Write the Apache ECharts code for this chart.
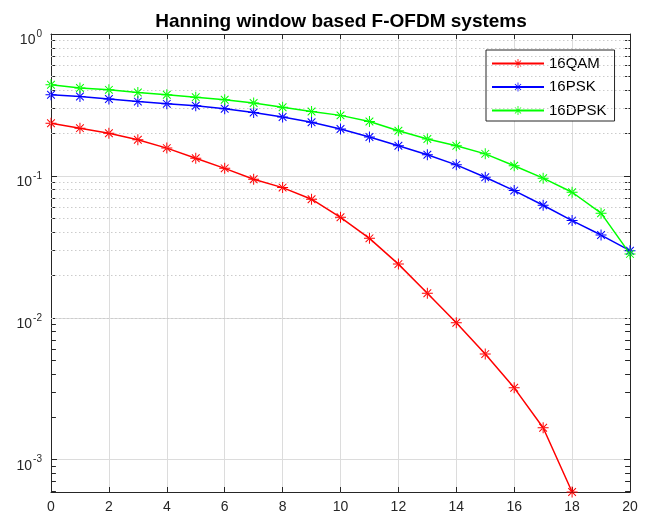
<!DOCTYPE html>
<html>
<head>
<meta charset="utf-8">
<script src="https://cdn.jsdelivr.net/npm/echarts@6/dist/echarts.min.js"></script>
<style>html,body{margin:0;padding:0;background:#fff;}#c{width:647px;height:520px;}</style>
</head>
<body>
<div id="c"></div>
<script>
// ---- data ----
var xValues = [0,1,2,3,4,5,6,7,8,9,10,11,12,13,14,15,16,17,18,19,20];
var qam16 = [0.235,0.217,0.200,0.180,0.157,0.133,0.113,0.0948,0.0827,0.0685,0.0511,0.0363,0.0239,0.0149,0.00923,0.00555,0.00321,0.00168,0.000592];
var psk16 = [0.373,0.363,0.348,0.334,0.322,0.312,0.297,0.280,0.260,0.239,0.214,0.188,0.163,0.141,0.1196,0.0979,0.0788,0.0621,0.0484,0.0383,0.0297];
var dpsk16 = [0.439,0.416,0.404,0.387,0.373,0.359,0.344,0.326,0.305,0.284,0.267,0.242,0.208,0.182,0.163,0.143,0.118,0.0964,0.0767,0.0546,0.0282];
var seriesNames = ['16QAM','16PSK','16DPSK'];
var seriesColors = ['#ff0000','#0000ff','#00ff00'];
var yMin = 0.000592, yMax = 1;
var xMin = 0, xMax = 20, xStep = 2;
var minorMultipliers = [2,3,4,5,6,7,8,9];
var minorDecades = [1e-4,1e-3,1e-2,1e-1];
var titleText = 'Hanning window based F-OFDM systems';

function pairs(ys){ return ys.map(function(v,i){ return [xValues[i], v]; }); }
var minorVals = [];
minorDecades.forEach(function(d){ minorMultipliers.forEach(function(m){ var v=m*d; if(v>yMin*1.001 && v<yMax) minorVals.push(v); }); });

var star = 'path://M-1,-0.09L1,-0.09L1,0.09L-1,0.09Z M-0.09,-1L0.09,-1L0.09,1L-0.09,1Z M0.636,0.764L0.764,0.636L-0.636,-0.764L-0.764,-0.636Z M0.764,-0.636L0.636,-0.764L-0.764,0.636L-0.636,0.764Z';

var frame = '#262626';
var font = 'Liberation Sans, Arial, sans-serif';

function sup(v){
  var e = Math.log10(v);
  var r = Math.round(e);
  if (Math.abs(e - r) > 1e-6) return '';
  return '{b|10}{s|' + r + '}';
}

var chart = echarts.init(document.getElementById('c'));
var data = [qam16, psk16, dpsk16];
var series = data.map(function(d, i){
  return {
    name: seriesNames[i], type: 'line', data: pairs(d), xAxisIndex: 0, yAxisIndex: 0,
    symbol: star, symbolSize: 11, showSymbol: true,
    lineStyle: {color: seriesColors[i], width: 1.5},
    itemStyle: {color: seriesColors[i]},
    z: 5, animation: false
  };
});
// minor grid lines (dotted)
series.unshift({
  name: 'minorgrid', type: 'line', data: [], xAxisIndex: 0, yAxisIndex: 0, z: 1, silent: true,
  markLine: {silent: true, symbol: 'none', animation: false, label: {show: false},
    lineStyle: {type: [1.5, 2.5], color: '#cccccc', width: 1},
    data: minorVals.map(function(v){ return {yAxis: v}; })}
});
// minor ticks on left and right frame
var tickLen = 0.17;
var minorTickData = [];
minorVals.forEach(function(v){
  minorTickData.push([{coord: [xMin, v]}, {coord: [xMin + tickLen, v]}]);
  minorTickData.push([{coord: [xMax - tickLen, v]}, {coord: [xMax, v]}]);
});
series.unshift({
  name: 'minorticks', type: 'line', data: [], xAxisIndex: 0, yAxisIndex: 0, z: 2, silent: true,
  markLine: {silent: true, symbol: 'none', animation: false, label: {show: false},
    lineStyle: {type: 'solid', color: frame, width: 1},
    data: minorTickData}
});

chart.setOption({
  animation: false,
  backgroundColor: '#ffffff',
  title: {text: titleText, left: 336, textAlign: 'center', top: 7,
    textStyle: {fontFamily: font, fontSize: 19, fontWeight: 'bold', color: '#000'}},
  grid: {left: 51, right: 17, top: 34, bottom: 28, containLabel: false},
  legend: {data: seriesNames, orient: 'vertical', left: 486, top: 50,
    backgroundColor: '#fff', borderColor: frame, borderWidth: 1, padding: [6, 8, 3, 5],
    itemWidth: 52, itemHeight: 11, itemGap: 8.5,
    textStyle: {fontFamily: font, fontSize: 15, color: '#000'}},
  xAxis: [
    {type: 'value', min: xMin, max: xMax, interval: xStep, position: 'bottom',
      axisLine: {show: true, onZero: false, lineStyle: {color: frame, width: 1}},
      axisTick: {show: true, inside: true, length: 5, lineStyle: {color: frame}},
      axisLabel: {margin: 8, fontFamily: font, fontSize: 14, color: '#262626'},
      splitLine: {show: true, lineStyle: {color: '#dcdcdc', width: 1}}},
    {type: 'value', min: xMin, max: xMax, interval: xStep, position: 'top',
      axisLine: {show: true, onZero: false, lineStyle: {color: frame, width: 1}},
      axisTick: {show: true, inside: true, length: 5, lineStyle: {color: frame}},
      axisLabel: {show: false}, splitLine: {show: false}}
  ],
  yAxis: [
    {type: 'log', logBase: 10, min: yMin, max: yMax, position: 'left',
      axisLine: {show: true, onZero: false, lineStyle: {color: frame, width: 1}},
      axisTick: {show: true, inside: true, length: 6, lineStyle: {color: frame}},
      axisLabel: {margin: 9, formatter: sup, fontFamily: font, color: '#262626', padding: [8, 0, 0, 0],
        rich: {b: {fontSize: 14, fontFamily: font, color: '#262626', verticalAlign: 'bottom'},
               s: {fontSize: 10, fontFamily: font, color: '#262626', verticalAlign: 'bottom', padding: [0, 0, 8, 1]}}},
      splitLine: {show: true, lineStyle: {color: '#dcdcdc', width: 1}}},
    {type: 'log', logBase: 10, min: yMin, max: yMax, position: 'right',
      axisLine: {show: true, onZero: false, lineStyle: {color: frame, width: 1}},
      axisTick: {show: true, inside: true, length: 6, lineStyle: {color: frame}},
      axisLabel: {show: false}, splitLine: {show: false}}
  ],
  series: series
});
</script>
</body>
</html>
